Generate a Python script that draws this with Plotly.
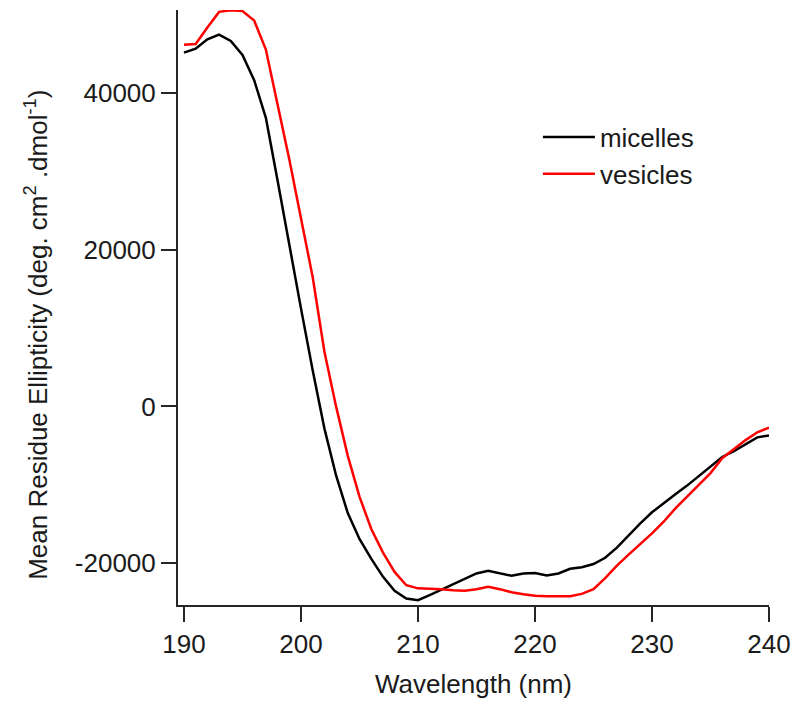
import plotly.graph_objects as go

wavelength = list(range(190, 241))

micelles = [45100, 45600, 46800, 47400, 46600, 44800, 41600, 36800, 28800, 20500,
            12500, 4600, -2800, -8800, -13600, -16900, -19400, -21700, -23500, -24500,
            -24700, -24050, -23350, -22600, -21900, -21300, -20950, -21300, -21600, -21300,
            -21250, -21550, -21300, -20700, -20500, -20100, -19300, -18000, -16400, -14900,
            -13500, -12300, -11200, -10100, -8900, -7700, -6450, -5700, -4800, -3950,
            -3700]

vesicles = [46100, 46200, 48300, 50300, 50500, 50400, 49200, 45500, 38500, 31500,
            24000, 16500, 7000, 0, -6300, -11500, -15600, -18600, -21100, -22800,
            -23200, -23250, -23300, -23450, -23500, -23300, -23000, -23300, -23700, -23950,
            -24150, -24200, -24200, -24200, -23900, -23300, -21900, -20300, -18900, -17600,
            -16200, -14700, -13000, -11500, -10000, -8500, -6600, -5400, -4300, -3300,
            -2700]

x_ticks = [190, 200, 210, 220, 230, 240]
y_ticks = [40000, 20000, 0, -20000]
y_ticktext = ["40000", "20000", "0", "-20000"]

x_title = "Wavelength (nm)"
y_title = "Mean Residue Ellipticity (deg. cm<sup>2</sup> .dmol<sup>-1</sup>)"

FONT = "Liberation Sans, Arial, sans-serif"
FS = 26
TXT = "#1a1a1a"

fig = go.Figure()
fig.add_trace(go.Scatter(x=wavelength, y=micelles, mode="lines", name="micelles",
                         line=dict(color="#000000", width=2.5)))
fig.add_trace(go.Scatter(x=wavelength, y=vesicles, mode="lines", name="vesicles",
                         line=dict(color="#ff0000", width=2.5)))

axis_common = dict(showgrid=False, zeroline=False, showline=True, linecolor="#262626",
                   linewidth=2, ticks="outside", ticklen=15, tickwidth=2, tickcolor="#262626",
                   tickfont=dict(size=FS, color=TXT, family=FONT))

fig.update_xaxes(range=[189.49, 240], tickvals=x_ticks,
                 title=dict(text=x_title, font=dict(size=FS, color=TXT, family=FONT),
                            standoff=17),
                 **axis_common)
fig.update_yaxes(range=[-25320, 50540], tickvals=y_ticks, ticktext=y_ticktext,
                 **axis_common)

fig.add_annotation(text=y_title, xref="paper", yref="paper", x=-0.2386, y=0.454,
                   xanchor="center", yanchor="middle", textangle=-90, showarrow=False,
                   font=dict(size=FS, color=TXT, family=FONT))

fig.update_layout(
    width=792, height=696,
    margin=dict(l=170, r=31, t=2, b=99, autoexpand=False),
    plot_bgcolor="white", paper_bgcolor="white",
    font=dict(family=FONT, size=FS, color=TXT),
    legend=dict(x=0.609, y=0.826, xanchor="left", yanchor="top", itemwidth=52,
                bgcolor="rgba(0,0,0,0)", font=dict(size=FS, family=FONT, color=TXT),
                tracegroupgap=0),
    showlegend=True,
)

fig.write_html("out.html")
